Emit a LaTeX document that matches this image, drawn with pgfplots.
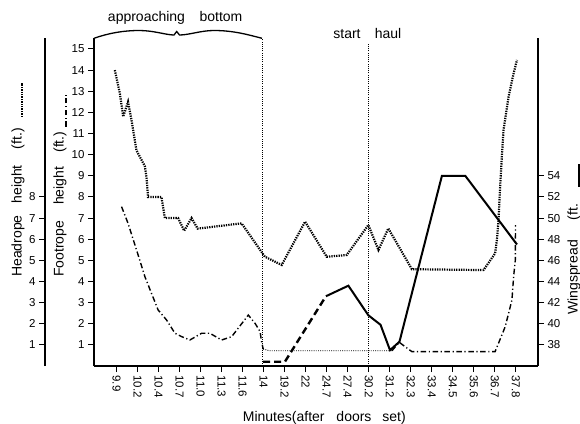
\documentclass[border=0pt]{standalone}
\usepackage{fontspec}
\setmainfont{Liberation Sans}
\usepackage{pgfplots}
\pgfplotsset{compat=1.18}
\tikzset{
  headrope/.style={black, line width=2.2pt, dash pattern=on 1.3pt off 1.1pt},
  footrope/.style={black, line width=1.4pt, dash pattern=on 5.5pt off 2.6pt on 1.2pt off 2.6pt},
  thindot/.style={black, line width=0.9pt, dash pattern=on 0.9pt off 1.3pt},
  wingsolid/.style={black, line width=2pt},
  wingdash/.style={black, line width=2.4pt, dash pattern=on 7pt off 4pt},
}
\pgfplotsset{
  common/.style={scale only axis, width=444pt, height=328pt, at={(0pt,0pt)}, anchor=south west,
    /pgf/number format/assume math mode=true,
    tick align=outside, major tick length=6pt,
    major tick style={black, line width=1pt},
    axis line style={-, line width=1.3pt, black},
    ticklabel style={font=\fontsize{11.5}{12}\selectfont},
    xmin=-1.07, xmax=20.05, clip=false},
}
\begin{document}
\begin{tikzpicture}
\useasboundingbox (-94pt,-57pt) rectangle (486pt,366pt);
\begin{axis}[common, ymin=0, ymax=15.52,
  axis x line*=bottom, axis y line*=left,
  xtick={0,...,19},
  xticklabels={9.9,10.2,10.4,10.7,11.0,11.3,11.6,14,19.2,22,24.7,27.4,30.2,31.2,32.3,33.4,34.5,35.6,36.7,37.8},
  xticklabel style={rotate=-90, anchor=west},
  ytick={1,...,15}]
% Headrope height (thick dotted)
\addplot[headrope] coordinates {(-0.08,14.0)(0.16,12.9)(0.32,11.8)(0.55,12.5)(0.72,11.6)(0.95,10.2)(1.19,9.75)(1.35,9.45)(1.43,8.9)(1.50,8.0)(2.14,8.0)(2.30,7.0)(2.93,7.0)(3.22,6.4)(3.57,7.0)(3.86,6.5)(5.95,6.75)(7.06,5.17)(7.86,4.78)(8.97,6.83)(10.0,5.17)(10.95,5.25)(11.98,6.67)(12.46,5.49)(12.93,6.51)(14.05,4.58)(17.46,4.54)(17.78,5.0)(18.01,5.33)(18.1,6.0)(18.17,6.9)(18.25,8.5)(18.33,9.9)(18.41,11.17)(18.65,12.74)(18.89,13.85)(19.05,14.48)};
% Footrope height (dash-dot)
\addplot[footrope] coordinates {(0.24,7.54)(0.55,6.75)(1.03,5.25)(1.35,4.23)(1.98,2.65)(2.38,2.18)(2.78,1.55)(3.1,1.39)(3.49,1.23)(4.05,1.55)(4.44,1.55)(5.0,1.23)(5.48,1.39)(6.27,2.41)(6.59,2.02)(6.83,1.63)(6.9,1.15)(6.98,0.8)};
\addplot[thindot] coordinates {(6.98,0.8)(7.3,0.72)(13.1,0.72)};
\addplot[footrope] coordinates {(13.1,0.72)(13.45,1.12)(14.05,0.68)(18.01,0.68)(18.49,1.86)(18.81,3.12)(18.89,4.23)(18.97,5.0)(18.98,6.67)};
\draw[thindot] (axis cs:6.92,0) -- (axis cs:6.92,15.45);
\draw[thindot] (axis cs:11.98,0) -- (axis cs:11.98,15.3);
\end{axis}
\begin{axis}[common, ymin=36, ymax=67.04,
  axis x line=none, axis y line*=right, xtick=\empty,
  ytick={38,40,...,54}, yticklabel style={anchor=west}]
% Wingspread
\addplot[wingdash] coordinates {(6.98,36.4)(8.01,36.4)(9.96,42.6)};
\addplot[wingsolid] coordinates {(9.96,42.6)(11.03,43.6)(11.98,40.8)(12.56,39.9)(13.01,37.5)(13.46,38.3)(15.48,54)(16.59,54)(19.05,47.5)};
\end{axis}
\begin{axis}[scale only axis, width=1pt, height=328pt, at={(-49pt,0pt)}, anchor=south west,
  xmin=0, xmax=1, ymin=0, ymax=15.52,
  axis x line=none, axis y line*=left, xtick=\empty,
  /pgf/number format/assume math mode=true,
  tick align=outside, major tick length=6pt,
  major tick style={black, line width=1pt},
  axis line style={-, line width=1.3pt, black},
  ticklabel style={font=\fontsize{11.5}{12}\selectfont},
  ytick={1,...,8}]
\end{axis}
% annotations
\draw[line width=1.3pt] (0pt,327.7pt) .. controls (15pt,333pt) and (30pt,335.5pt) .. (45pt,335.5pt)
  .. controls (60pt,335.5pt) and (72pt,331pt) .. (80pt,331pt)
  .. controls (81.5pt,332pt) .. (82.7pt,334.5pt)
  .. controls (84pt,332pt) .. (85.5pt,331pt)
  .. controls (95pt,331pt) and (107pt,335.5pt) .. (120pt,335.5pt)
  .. controls (140pt,335.5pt) and (155pt,331pt) .. (168pt,327.7pt);
\begin{scope}[every node/.style={font=\fontsize{14}{16}\selectfont, inner sep=0pt}]
\node[anchor=base] at (52.5pt,344pt) {approaching};
\node[anchor=base] at (127pt,344pt) {bottom};
\node[anchor=base] at (253pt,327pt) {start};
\node[anchor=base] at (294pt,327pt) {haul};
\node[anchor=base west] at (148.7pt,-55pt) {Minutes(after\hspace{8pt} doors\hspace{7pt} set)};
\node[rotate=90, anchor=west] at (-76pt,89pt) {Headrope\hspace{12pt}height\hspace{16pt}(ft.)};
\node[rotate=90, anchor=west] at (-34pt,89pt) {Footrope\hspace{16pt}height\hspace{14pt}(ft.)};
\node[rotate=90, anchor=west] at (480pt,51pt) {Wingspread\hspace{20pt}(ft.};
\end{scope}
\draw[headrope] (-72pt,249pt) -- (-72pt,283pt);
\draw[footrope] (-28pt,239pt) -- (-28pt,271pt);
\draw[wingsolid, line width=2.4pt] (485pt,179pt) -- (485pt,202pt);
\end{tikzpicture}
\end{document}
